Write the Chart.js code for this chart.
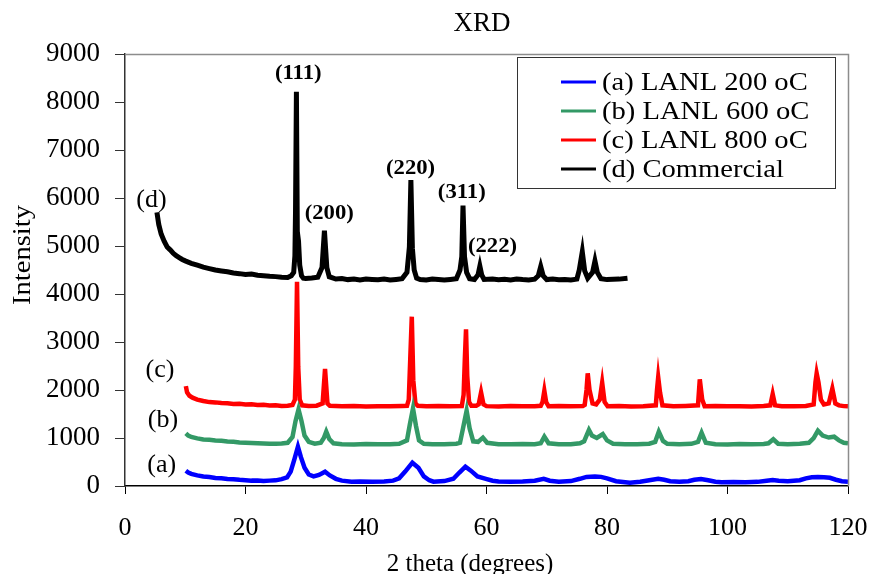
<!DOCTYPE html>
<html>
<head>
<meta charset="utf-8">
<script src="https://cdn.jsdelivr.net/npm/chart.js@4.4.1/dist/chart.umd.min.js"></script>
<style>
  html, body { margin: 0; padding: 0; background: #fff; }
  #wrap { width: 872px; height: 574px; }
</style>
</head>
<body>
<div id="wrap"><canvas id="xrdChart" width="872" height="574"></canvas></div>
<script>
// XRD patterns, [2theta, intensity]
const seriesLabels = ['(a) LANL 200 oC', '(b) LANL 600 oC', '(c) LANL 800 oC', '(d) Commercial'];
const seriesColors = ['#0000ff', '#339966', '#ff0000', '#000000'];

const lanl200 = [
  [10.1,319],[10.5,280],[11,252],[12,222],[13,198],[14,188],[15,168],[16,162],[17,148],[18,142],
  [19,128],[20,122],[21,112],[22,114],[23,106],[24,112],[25,118],[26,142],[26.9,180],[27.5,300],
  [28.1,550],[28.7,819],[29.2,600],[29.8,380],[30.5,240],[31.3,200],[32.2,232],[33.2,299],[34,220],
  [35,150],[36,112],[37.6,90],[39,94],[41,86],[43,96],[44.5,112],[45.5,160],[46.5,300],[47.7,486],
  [48.7,380],[49.6,200],[50.5,120],[51.2,90],[53,102],[54.5,150],[55.5,280],[56.5,403],[57.4,320],
  [58.5,200],[59.9,150],[61,110],[62,96],[64,88],[66,92],[68,110],[69.5,150],[70.5,110],[72,90],
  [74,102],[75.5,150],[76.6,190],[78,200],[79,190],[80,160],[81.5,100],[83.8,70],[85.5,90],[87,120],
  [88.5,150],[89.5,130],[90.5,100],[92,90],[93.5,100],[94.5,130],[95.6,146],[96.8,120],[98,90],
  [99,76],[101,82],[103,78],[105,86],[106.5,110],[107.5,125],[108.5,110],[110,100],[112,120],
  [113,160],[114,181],[115,186],[116,180],[117,170],[118,130],[119,100],[120,90]
];

const lanl600 = [
  [10.1,1097],[10.5,1050],[11,1022],[12,992],[13,968],[14,962],[15,948],[16,942],[17,928],[18,922],
  [19,908],[20,902],[21,898],[22,892],[23,886],[24,882],[25,878],[26,884],[27,900],[27.8,1020],
  [28.3,1350],[28.8,1597],[29.3,1350],[29.8,1050],[30.5,920],[31.5,880],[32.5,900],[33,1000],
  [33.4,1132],[33.9,980],[34.6,890],[36,872],[38,866],[40,874],[42,868],[44,872],[45.5,880],
  [46.8,950],[47.3,1300],[47.8,1618],[48.3,1250],[48.8,950],[49.6,880],[51,872],[53,868],
  [55,880],[55.6,900],[56.1,1200],[56.7,1569],[57.2,1200],[57.8,930],[58.6,920],[59.4,1007],
  [60.1,900],[62,872],[64,868],[66,874],[68,870],[69,890],[69.6,1028],[70.3,890],[72,872],
  [74,868],[75.5,890],[76.2,930],[76.6,1050],[77,1167],[77.5,1050],[78.3,1000],[79.3,1083],
  [80,950],[81,880],[83,872],[85,868],[87,880],[88,920],[88.6,1132],[89.3,940],[90,880],
  [92,870],[94,878],[95.1,920],[95.7,1111],[96.4,900],[98,872],[100,866],[102,874],[104,868],
  [106,876],[106.8,890],[107.6,972],[108.4,880],[110,872],[112,880],[113.5,900],[114.3,1000],
  [115,1153],[115.8,1050],[116.8,1010],[117.7,1028],[118.5,950],[119.3,900],[120,889]
];

const lanl800 = [
  [10.1,2080],[10.3,1950],[10.7,1880],[11.2,1840],[12,1800],[13,1772],[14,1748],[15,1742],[16,1728],
  [17,1722],[18,1708],[19,1712],[20,1698],[21,1702],[22,1688],[23,1692],[24,1678],[25,1684],
  [26,1668],[27,1672],[27.8,1690],[28.2,1800],[28.35,2480],[28.55,4256],[28.75,2480],[29,1800],
  [29.4,1680],[30.5,1668],[31.8,1674],[32.8,1720],[33.2,2437],[33.6,1720],[34,1670],[36,1662],
  [38,1668],[40,1658],[42,1664],[44,1660],[46,1666],[46.8,1670],[47.1,1800],[47.35,2667],
  [47.6,3527],[47.85,2200],[48.2,1720],[48.6,1670],[50,1662],[52,1668],[54,1660],[55.9,1666],
  [56.2,1900],[56.4,2625],[56.6,3264],[56.8,2300],[57.1,1750],[57.5,1670],[58.3,1672],[58.7,1700],
  [59.1,1950],[59.5,1700],[60,1664],[62,1658],[64,1666],[66,1660],[68,1664],[69,1670],[69.3,1750],
  [69.6,1986],[69.9,1750],[70.3,1660],[72,1666],[74,1660],[76,1668],[76.3,1690],[76.6,2000],
  [76.8,2347],[77.1,2000],[77.6,1720],[78.2,1700],[78.8,1800],[79.2,2153],[79.6,1750],[80.1,1660],
  [82,1666],[84,1658],[86,1664],[88.1,1680],[88.3,2000],[88.5,2264],[88.8,1950],[89.2,1680],
  [91,1662],[93,1668],[95.1,1680],[95.4,2222],[95.8,1800],[96.2,1660],[98,1666],[100,1660],
  [102,1664],[104,1658],[106,1666],[107.1,1680],[107.5,1917],[107.9,1680],[109,1660],[111,1664],
  [113,1668],[114.3,1700],[114.6,2160],[114.8,2347],[115.1,2160],[115.5,1800],[116,1700],
  [116.8,1720],[117.4,2028],[117.9,1720],[118.5,1680],[119.3,1664],[120,1660]
];

const commercial = [
  [5.3,5700],[5.6,5450],[6,5250],[6.5,5100],[7,4980],[7.5,4920],[8,4850],[8.5,4800],[9,4760],
  [9.5,4720],[10,4690],[11,4640],[12,4600],[13,4560],[14,4530],[15,4500],[16,4480],[17,4462],
  [18,4438],[19,4424],[20,4406],[21,4418],[22,4390],[23,4382],[24,4368],[25,4362],[26,4348],
  [27,4342],[27.6,4380],[28,4450],[28.2,4800],[28.3,5690],[28.45,8215],[28.6,5300],[28.8,5100],
  [29,4600],[29.3,4380],[29.6,4330],[30,4322],[31,4334],[32,4350],[32.7,4550],[33.1,5320],
  [33.5,4550],[33.9,4360],[35,4312],[36,4324],[37,4300],[38,4314],[39,4292],[40,4310],[41,4302],
  [42,4296],[43,4312],[44,4290],[45,4304],[46,4320],[46.8,4450],[47.2,4980],[47.45,6375],
  [47.7,4950],[48,4500],[48.4,4330],[49,4302],[50,4292],[51,4310],[52,4300],[53,4290],[54,4304],
  [55,4320],[55.6,4500],[55.9,4780],[56.1,5840],[56.35,4780],[56.7,4450],[57.2,4320],[58,4302],
  [58.6,4400],[58.9,4580],[59.2,4400],[59.6,4302],[61,4312],[62,4296],[63,4308],[64,4292],
  [65,4310],[66,4300],[67,4294],[68,4310],[68.6,4380],[69,4570],[69.4,4380],[70,4300],[71,4312],
  [72,4296],[73,4304],[74,4292],[75,4310],[75.4,4500],[75.9,4880],[76.3,4480],[76.8,4330],
  [77.6,4450],[78,4690],[78.4,4450],[79,4320],[80,4300],[81,4306],[82,4310],[83.4,4330]
];

// text labels: [text, 2theta, intensity]
const peakLabels = [
  ['(111)', 28.75, 8583], ['(200)', 33.9, 5667], ['(220)', 47.4, 6604],
  ['(311)', 55.9, 6104], ['(222)', 61.0, 4979]
];
const curveLabels = [
  ['(d)', 4.4, 5958], ['(c)', 5.8, 2417], ['(b)', 6.3, 1375], ['(a)', 6.1, 437]
];

const xTicks = [0, 20, 40, 60, 80, 100, 120];
const yTicks = [0, 1000, 2000, 3000, 4000, 5000, 6000, 7000, 8000, 9000];

const SERIF = '"Liberation Serif", "Times New Roman", serif';
Chart.defaults.font.family = SERIF;
Chart.defaults.color = '#000';

const toXY = arr => arr.map(p => ({ x: p[0], y: p[1] }));
const allSeries = [lanl200, lanl600, lanl800, commercial];

const datasets = allSeries.map((s, i) => ({
  label: seriesLabels[i],
  data: toXY(s),
  borderColor: seriesColors[i],
  backgroundColor: seriesColors[i],
  borderWidth: i === 3 ? 5 : 4.5,
  pointRadius: 0,
  tension: 0,
  fill: false
}));

const decorPlugin = {
  id: 'decor',
  afterDatasetsDraw(chart) {
    const { ctx, chartArea: ca, scales: { x, y } } = chart;
    ctx.save();
    // gray frame on top and right
    ctx.strokeStyle = '#8c8c8c';
    ctx.lineWidth = 1.5;
    ctx.beginPath();
    ctx.moveTo(ca.left, ca.top + 0.5);
    ctx.lineTo(ca.right + 0.5, ca.top + 0.5);
    ctx.lineTo(ca.right + 0.5, ca.bottom);
    ctx.stroke();

    ctx.fillStyle = '#000';
    ctx.textAlign = 'center';
    ctx.textBaseline = 'middle';

    // chart title and axis titles
    ctx.font = '27px ' + SERIF;
    ctx.fillText('XRD', 482, 24);
    ctx.font = '25px ' + SERIF;
    ctx.fillText('2 theta (degrees)', 470, 564);
    ctx.save();
    ctx.translate(23, 255);
    ctx.rotate(-Math.PI / 2);
    ctx.scale(1.1, 1);
    ctx.font = '26px ' + SERIF;
    ctx.fillText('Intensity', 0, 0);
    ctx.restore();

    ctx.font = 'bold 21px ' + SERIF;
    peakLabels.forEach(([t, px, py]) => {
      ctx.save();
      ctx.translate(x.getPixelForValue(px), y.getPixelForValue(py));
      ctx.scale(1.08, 1);
      ctx.fillText(t, 0, 0);
      ctx.restore();
    });
    ctx.font = '26px ' + SERIF;
    curveLabels.forEach(([t, px, py]) => ctx.fillText(t, x.getPixelForValue(px), y.getPixelForValue(py)));

    // legend box
    const bx = ca.right - 331, by = ca.top + 3, bw = 318, bh = 131;
    ctx.fillStyle = '#fff';
    ctx.fillRect(bx, by, bw, bh);
    ctx.strokeStyle = '#333';
    ctx.lineWidth = 1;
    ctx.strokeRect(bx + 0.5, by + 0.5, bw, bh);
    ctx.textAlign = 'left';
    ctx.font = '26px ' + SERIF;
    chart.data.datasets.forEach((ds, i) => {
      const ry = by + 25 + i * 29;
      ctx.strokeStyle = ds.borderColor;
      ctx.lineWidth = 3;
      ctx.beginPath();
      ctx.moveTo(bx + 44, ry);
      ctx.lineTo(bx + 79, ry);
      ctx.stroke();
      ctx.fillStyle = '#000';
      ctx.save();
      ctx.translate(bx + 85, ry + 1);
      ctx.scale(1.1, 1);
      ctx.fillText(ds.label, 0, 0);
      ctx.restore();
    });
    ctx.restore();
  }
};

new Chart(document.getElementById('xrdChart'), {
  type: 'line',
  data: { datasets },
  options: {
    responsive: false,
    animation: false,
    devicePixelRatio: 1,
    layout: { padding: { left: 0, right: 24, top: 54, bottom: 0 } },
    plugins: {
      legend: { display: false },
      tooltip: { enabled: false },
      title: { display: false }
    },
    scales: {
      x: {
        type: 'linear',
        min: 0, max: 120,
        afterBuildTicks: s => { s.ticks = xTicks.map(v => ({ value: v })); },
        afterFit: s => { s.height = 88; s.paddingLeft = 0; s.paddingRight = 0; },
        ticks: { font: { size: 26 }, color: '#000', padding: 19, maxRotation: 0, callback: v => String(v) },
        grid: { drawOnChartArea: false, drawTicks: true, tickLength: 8, tickColor: '#000' },
        border: { color: '#000', width: 1.5 },
        title: { display: false }
      },
      y: {
        min: 0, max: 9000,
        afterBuildTicks: s => { s.ticks = yTicks.map(v => ({ value: v })); },
        afterFit: s => { s.width = 125; s.paddingTop = 0; s.paddingBottom = 0; },
        ticks: { font: { size: 27 }, color: '#000', padding: 15, callback: v => String(v) },
        grid: { drawOnChartArea: false, drawTicks: true, tickLength: 10, tickColor: '#333' },
        border: { color: '#333', width: 1.5 },
        title: { display: false }
      }
    }
  },
  plugins: [decorPlugin]
});
</script>
</body>
</html>
